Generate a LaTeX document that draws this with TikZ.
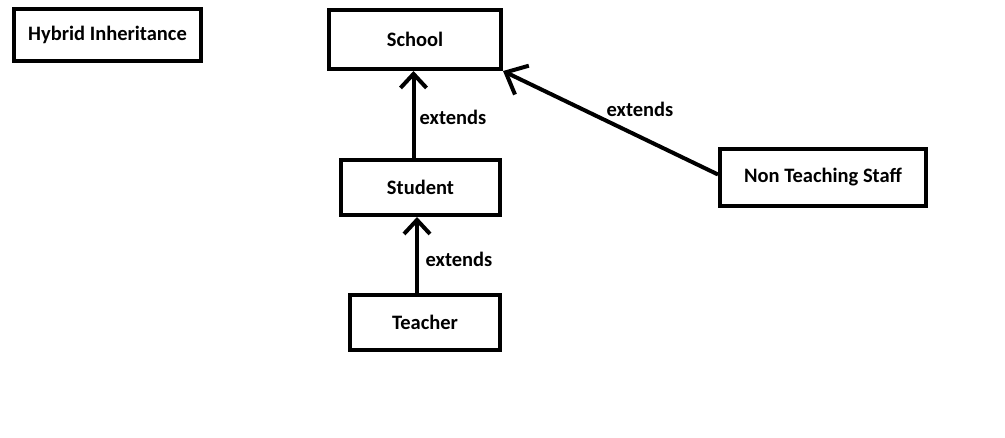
\documentclass[tikz,border=0pt]{standalone}
\usepackage{fontspec}
\setmainfont{Carlito}
\usetikzlibrary{arrows.meta}

\begin{document}
\begin{tikzpicture}[x=1pt,y=-1pt,
		box/.style={draw, line width=4pt, inner sep=0pt, font=\bfseries\fontsize{20.5}{22}\selectfont},
		ext/.style={line width=4pt, -{Straight Barb[length=14pt,width=26pt,line width=4pt]}},
		bigext/.style={line width=4pt, -{Straight Barb[length=18pt,width=32pt,line width=4pt]}},
		lbl/.style={font=\bfseries\fontsize{20.5}{22}\selectfont}]
	\useasboundingbox (0,0) rectangle (1005,437);

	\node [box, minimum width=187pt, minimum height=52pt] (title)   at (107.5,35)  {Hybrid Inheritance};
	\node [box, minimum width=172pt, minimum height=59pt] (school)  at (415,39.5)  {School\hspace{14pt}};
	\node [box, minimum width=159pt, minimum height=55pt] (student) at (420.5,187.5) {Student\hspace{10pt}};
	\node [box, minimum width=150pt, minimum height=55pt] (teacher) at (425,322.5) {Teacher};
	\node [box, minimum width=206pt, minimum height=57pt] (staff)   at (823,177.5) {Non Teaching Staff};

	\draw [ext] ([xshift=-7pt]student.north) -- ([xshift=-7pt]student.north |- school.south);
	\draw [ext] ([xshift=-8pt]teacher.north) -- ([xshift=-8pt]teacher.north |- student.south);
	\draw [bigext] ([yshift=3pt]staff.west) -- (school.south east);

	\node [lbl] (ext1) at (453,117) {extends};
	\node [lbl] (ext2) at (459,259) {extends};
	\node [lbl] (ext3) at (640,109) {extends};
\end{tikzpicture}
\end{document}
